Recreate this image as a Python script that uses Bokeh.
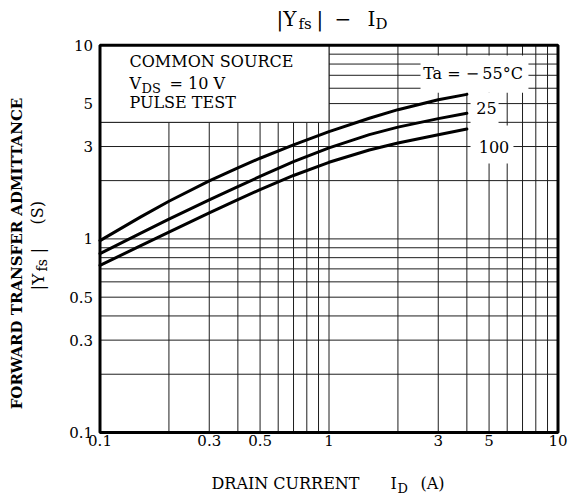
import math
from bokeh.plotting import figure
from bokeh.models import Range1d, Label
from bokeh.core.properties import value
from bokeh.embed import file_html
from bokeh.resources import INLINE

# ---- data ----
id_a = [0.1, 0.15, 0.2, 0.3, 0.4, 0.5, 0.7, 1.0, 1.5, 2.0, 3.0, 4.0]
yfs_m55 = [0.98, 1.295, 1.565, 1.995, 2.33, 2.61, 3.06, 3.58, 4.20, 4.65, 5.23, 5.58]
yfs_25 = [0.84, 1.069, 1.265, 1.591, 1.864, 2.102, 2.504, 2.951, 3.456, 3.78, 4.18, 4.455]
yfs_100 = [0.73, 0.92, 1.084, 1.362, 1.596, 1.797, 2.126, 2.487, 2.878, 3.129, 3.449, 3.695]

x_lim = (0.1, 10)
y_lim = (0.1, 10)
x_ticks = [0.1, 0.3, 0.5, 1, 3, 5, 10]
x_tick_labels = ["0.1", "0.3", "0.5", "1", "3", "5", "10"]
x_minor = [0.2, 0.4, 0.6, 0.7, 0.8, 0.9, 2, 4, 6, 7, 8, 9]
y_ticks = [0.1, 0.3, 0.5, 1, 3, 5, 10]
y_tick_labels = ["0.1", "0.3", "0.5", "1", "3", "5", "10"]
y_minor = [0.2, 0.4, 0.6, 0.7, 0.8, 0.9, 2, 4, 6, 7, 8, 9]

# blank (label background) zones: left, right, bottom, top in data units
legend_box = dict(left=[0.1], right=[1.0], bottom=[4.0], top=[10.0])
blank_left = [2.51, 4.15, 5.50]
blank_right = [7.43, 5.50, 6.39]
blank_bottom = [5.69, 2.45, 2.45]
blank_top = [8.85, 5.69, 3.85]

SERIF = "DejaVu Serif"
W, H = 568, 495
# plot area inside the canvas (pixels)
PL, PR, PT, PB = 99.5, 557.5, 44.8, 432.0
dx = (PR - PL) / 2.0   # px per decade
dy = (PB - PT) / 2.0

x_range = Range1d(10 ** (-1 - PL / dx), 10 ** (1 + (W - PR) / dx))
y_range = Range1d(10 ** (-1 - (H - PB) / dy), 10 ** (1 + PT / dy))

p = figure(width=W, height=H, x_axis_type="log", y_axis_type="log",
           x_range=x_range, y_range=y_range,
           x_axis_location=None, y_axis_location=None,
           output_backend="svg", toolbar_location=None,
           min_border=0)
p.grid.visible = False
p.outline_line_color = None
p.background_fill_color = "white"
p.border_fill_color = "white"

GRID = "#1e1e1e"
xs_all = x_ticks + x_minor
ys_all = y_ticks + y_minor
p.segment(x0=xs_all, y0=[y_lim[0]] * len(xs_all), x1=xs_all, y1=[y_lim[1]] * len(xs_all),
          line_color=GRID, line_width=1)
p.segment(x0=[x_lim[0]] * len(ys_all), y0=ys_all, x1=[x_lim[1]] * len(ys_all), y1=ys_all,
          line_color=GRID, line_width=1)

# blank zones behind labels
p.quad(left=blank_left, right=blank_right, bottom=blank_bottom, top=blank_top,
       fill_color="white", line_color=None)
p.quad(**legend_box, fill_color="white", line_color=GRID, line_width=1)

for ys in (yfs_m55, yfs_25, yfs_100):
    p.line(id_a, ys, line_color="black", line_width=3, line_join="round", line_cap="round")

# frame
p.quad(left=[x_lim[0]], right=[x_lim[1]], bottom=[y_lim[0]], top=[y_lim[1]],
       fill_color=None, line_color="black", line_width=3)

# tick labels
p.text(x=x_ticks, y=[y_lim[0]] * len(x_ticks), text=x_tick_labels, y_offset=2,
       text_align="center", text_baseline="top", text_font=value(SERIF),
       text_font_size="15px", text_color="black")
p.text(x=[x_lim[0]] * len(y_ticks), y=y_ticks, text=y_tick_labels, x_offset=-7,
       text_align="right", text_baseline="middle", text_font=value(SERIF),
       text_font_size="15px", text_color="black")


def put(text, px, py, size, align="left", angle=0.0, style="normal"):
    """px, py: canvas pixel position (text middle) from top-left"""
    p.add_layout(Label(x=px, y=H - py, x_units="screen", y_units="screen", text=text,
                       text_font=SERIF, text_font_size=f"{size}px", text_align=align,
                       text_baseline="middle", angle=angle, text_color="black",
                       text_font_style=style))


# title  |Yfs| - ID
put("|Y", 276, 18, 20)
put("fs", 298, 23, 15)
put("|", 316, 18, 20)
put("\u2212", 334, 18, 20)
put("I", 367, 18, 20)
put("D", 375, 23, 15)

# legend text
put("COMMON SOURCE", 129, 61, 16)
put("V", 129, 83, 16)
put("DS", 141, 87.5, 13)
put("= 10 V", 169, 83, 16)
put("PULSE TEST", 129, 102, 16)

# curve labels
put("Ta = \u2212\u200955\u00b0C", 472.5, 73, 16, align="center")
put("25", 486, 107, 16, align="center")
put("100", 493.5, 146.5, 16, align="center")

# x axis title
put("DRAIN CURRENT", 211, 483, 16)
put("I", 390, 483, 16)
put("D", 397, 488, 13)
put("(A)", 420, 483, 16)

# y axis title
R = math.pi / 2
put("FORWARD TRANSFER ADMITTANCE", 16, 253, 15, align="center", angle=R, style="bold")
put("|Y", 37, 290, 17, angle=R)
put("fs", 41, 271, 14, angle=R)
put("|", 37, 253, 17, angle=R)
put("(S)", 37, 224, 16, angle=R)

open("out.html", "w").write(file_html(p, INLINE))
